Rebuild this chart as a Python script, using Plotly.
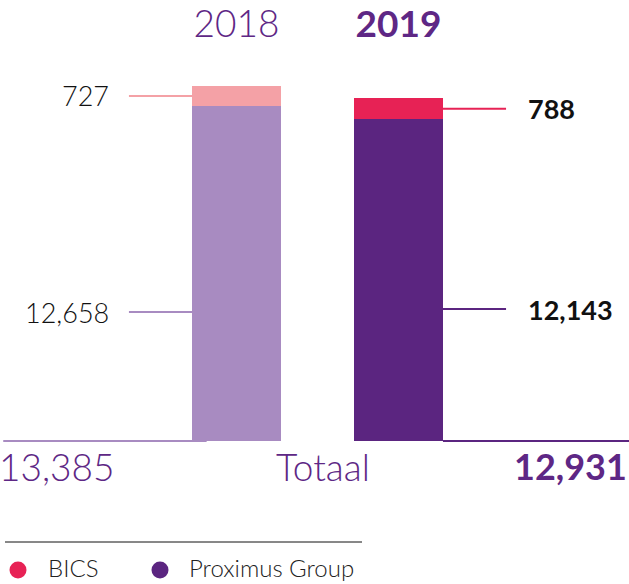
import plotly.graph_objects as go

# --- data -------------------------------------------------------------
years = ["2018", "2019"]
proximus = [12658, 12143]
bics = [727, 788]
totals = [p + b for p, b in zip(proximus, bics)]
total_label = "Totaal"
legend_names = ["BICS", "Proximus Group"]

# --- styling ----------------------------------------------------------
proximus_colors = ["#A88BC1", "#5B2580"]
bics_colors = ["#F4A1A6", "#E72255"]
text_purple = "#5E2785"
FONT = "Lato"

W, H = 629, 584
TOP_PX = 45           # top of plotting area (year labels sit above it)
BASE_PX = 441         # pixel row of the zero line
PX_PER_UNIT = 0.0265  # vertical scale of the bars
X_UNIT_PX = 162       # pixels between the two bar centres

pos = [0, 1]          # bar centres on a numeric x axis
BAR_W = 0.549
X_RANGE = [-1.46, 2.423]
Y_RANGE = [-(H - BASE_PX) / PX_PER_UNIT, (BASE_PX - TOP_PX) / PX_PER_UNIT]


def py(pixel_row):
    """Paper y for a pixel row of the page (plot area reaches the bottom)."""
    return (H - pixel_row) / (H - TOP_PX)


def px(pixel_col):
    return pixel_col / W


fig = go.Figure()
fig.add_bar(x=pos, y=proximus, width=BAR_W, name="Proximus Group",
            marker=dict(color=proximus_colors, line_width=0),
            showlegend=False, hoverinfo="skip")
fig.add_bar(x=pos, y=bics, width=BAR_W, name="BICS",
            marker=dict(color=bics_colors, line_width=0),
            showlegend=False, hoverinfo="skip")

shapes = []
annotations = []

# baselines beside each bar
shapes.append(dict(type="line", xref="x", yref="y", x0=X_RANGE[0] + 0.02,
                   x1=-BAR_W / 2 + 0.09, y0=0, y1=0,
                   line=dict(color=proximus_colors[0], width=2), layer="below"))
shapes.append(dict(type="line", xref="x", yref="y", x0=1 + BAR_W / 2, x1=X_RANGE[1],
                   y0=0, y1=0, line=dict(color=proximus_colors[1], width=2),
                   layer="below"))

# value labels with leader lines
LEAD_IN = 0.664
LABEL_OFF = [0.793 - 3 / X_UNIT_PX, 0.793 - 1 / X_UNIT_PX]
prox_label_rows = [312, 309]
for i, (p, b) in enumerate(zip(proximus, bics)):
    left = i == 0
    edge = pos[i] - BAR_W / 2 if left else pos[i] + BAR_W / 2
    lx = pos[i] - LEAD_IN if left else pos[i] + LEAD_IN
    tx = pos[i] - LABEL_OFF[i] if left else pos[i] + LABEL_OFF[i]
    anchor = "right" if left else "left"
    weight = 300 if left else 700
    # BICS segment label at its middle
    ym = p + b / 2
    shapes.append(dict(type="line", xref="x", yref="y", x0=lx, x1=edge,
                       y0=ym, y1=ym, line=dict(color=bics_colors[i], width=2)))
    annotations.append(dict(x=tx, y=ym, xref="x", yref="y", text=f"{b:,}",
                            showarrow=False, xanchor=anchor, yanchor="middle",
                            font=dict(family=FONT, size=27, color="#111111",
                                      weight=weight)))
    # Proximus segment label
    yp = py(prox_label_rows[i])
    shapes.append(dict(type="line", xref="x", yref="paper", x0=lx, x1=edge,
                       y0=yp, y1=yp, line=dict(color=proximus_colors[i], width=2)))
    annotations.append(dict(x=tx, y=yp, xref="x", yref="paper", text=f"{p:,}",
                            showarrow=False, xanchor=anchor, yanchor="middle",
                            font=dict(family=FONT, size=27, color="#111111",
                                      weight=weight)))

# totals row
row_y = py(466)
annotations.append(dict(x=px(-3), y=row_y, xref="paper", yref="paper",
                        text=f"{totals[0]:,}", showarrow=False, xanchor="left",
                        yanchor="middle",
                        font=dict(family=FONT, size=37, color=text_purple, weight=300)))
annotations.append(dict(x=px(322.5), y=row_y, xref="paper", yref="paper",
                        text=total_label, showarrow=False, xanchor="center",
                        yanchor="middle",
                        font=dict(family=FONT, size=37, color=text_purple, weight=300)))
annotations.append(dict(x=px(629), y=row_y, xref="paper", yref="paper",
                        text=f"{totals[1]:,}", showarrow=False, xanchor="right",
                        yanchor="middle",
                        font=dict(family=FONT, size=36, color=text_purple, weight=700)))

# rule above the key
shapes.append(dict(type="line", xref="paper", yref="paper", x0=px(5), x1=px(362),
                   y0=py(542), y1=py(542), line=dict(color="#111111", width=1)))

# key: round dot + name
key_dot_cols = [18, 160]
key_text_cols = [46, 187]
key_colors = [bics_colors[1], proximus_colors[1]]
KEY_ROW, DOT_R = 570, 8.5
for name, dc, tc, col in zip(legend_names, key_dot_cols, key_text_cols, key_colors):
    shapes.append(dict(type="circle", xref="paper", yref="paper",
                       x0=px(dc - DOT_R), x1=px(dc + DOT_R),
                       y0=py(KEY_ROW + DOT_R), y1=py(KEY_ROW - DOT_R),
                       fillcolor=col, line=dict(width=0)))
    annotations.append(dict(x=px(tc), y=0, xref="paper", yref="paper",
                            text=name, showarrow=False, xanchor="left",
                            yanchor="bottom",
                            font=dict(family=FONT, size=24, color="#222222",
                                      weight=300)))

fig.update_layout(
    width=W, height=H,
    margin=dict(l=0, r=0, t=TOP_PX, b=0, pad=0),
    paper_bgcolor="white", plot_bgcolor="white",
    barmode="stack", bargap=0,
    font=dict(family=FONT, color="#111111"),
    xaxis=dict(range=X_RANGE, side="top", tickvals=pos,
               ticktext=[years[0], f"<b>{years[1]}</b>"],
               tickfont=dict(family=FONT, size=37, color=text_purple, weight=300),
               showgrid=False, zeroline=False, showline=False, ticks="",
               fixedrange=True),
    yaxis=dict(range=Y_RANGE, visible=False, showgrid=False, zeroline=False,
               fixedrange=True),
    showlegend=False,
    shapes=shapes,
    annotations=annotations,
)

fig.write_html("out.html")
